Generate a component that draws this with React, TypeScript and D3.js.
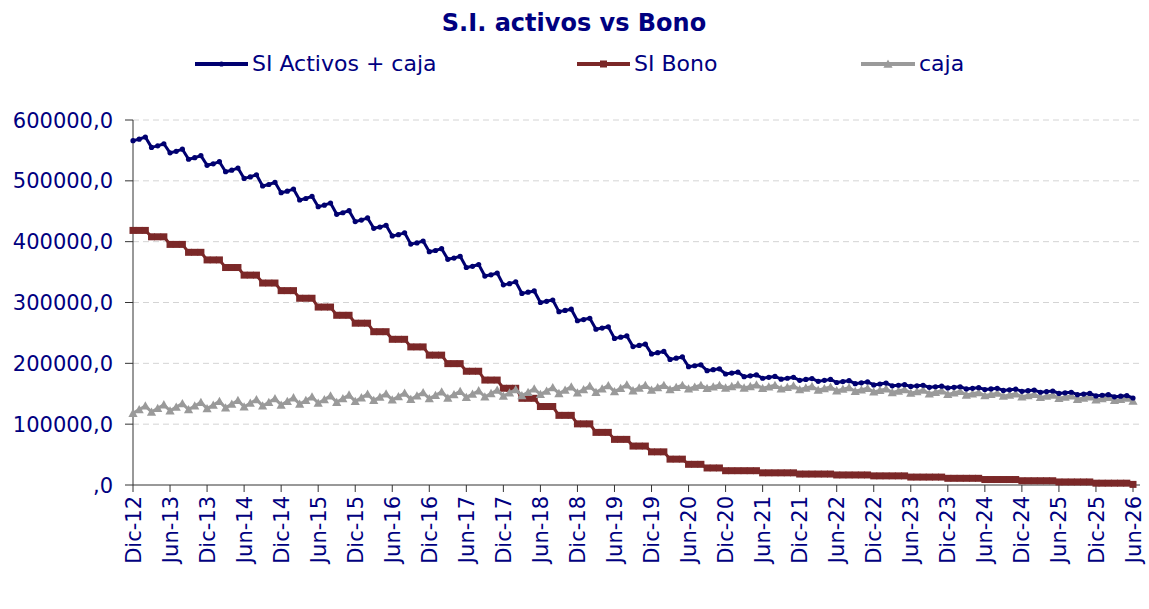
import React from "react";
import * as d3 from "d3";

// ---- data (values in thousands) ----
const MONTHS = ["Ene", "Feb", "Mar", "Abr", "May", "Jun", "Jul", "Ago", "Sep", "Oct", "Nov", "Dic"];
const START_MONTH = 11; // Dic
const START_YEAR = 12;
const N_POINTS = 163; // Dic-12 .. Jun-26

const categories: string[] = Array.from({ length: N_POINTS }, (_, i) => {
  const m = (START_MONTH + i) % 12;
  const y = START_YEAR + Math.floor((START_MONTH + i) / 12);
  return `${MONTHS[m]}-${y}`;
});

const tickLabels = [
  "Dic-12", "Jun-13", "Dic-13", "Jun-14", "Dic-14", "Jun-15", "Dic-15", "Jun-16", "Dic-16", "Jun-17",
  "Dic-17", "Jun-18", "Dic-18", "Jun-19", "Dic-19", "Jun-20", "Dic-20", "Jun-21", "Dic-21", "Jun-22",
  "Dic-22", "Jun-23", "Dic-23", "Jun-24", "Dic-24", "Jun-25", "Dic-25", "Jun-26",
];

const siActivosCaja = [
  566, 568.5, 572, 555, 557.5, 561, 546, 548.5, 552, 535.5, 538, 541.5,
  525.5, 528, 531.5, 515, 517.5, 521, 504, 506.5, 510, 491.5, 494, 497.5,
  480.5, 483, 486.5, 468.5, 471, 474.5, 457.5, 460, 463.5, 445, 447.5, 451,
  433, 435.5, 439, 422, 424, 427, 409.5, 411.5, 414.5, 396, 398, 401,
  383.5, 385.5, 388.5, 371, 373, 376, 357.5, 359.5, 362.5, 343.5, 345.5, 348.5,
  329, 331, 334, 315, 317, 319, 300, 302, 304, 285, 287, 289,
  270, 272, 274, 256, 258, 260, 241, 243, 245, 227.5, 229.5, 231.5,
  215.5, 217.5, 219.5, 206.5, 208.5, 210.5, 194.5, 196, 197.5, 188, 189.5, 191,
  182.5, 184, 185.5, 178, 179.5, 181, 175.5, 177, 178.5, 174, 175.5, 177,
  172, 173.5, 175, 170.5, 172, 173.5, 168.5, 170, 171.5, 166.5, 168, 169.5,
  164.5, 166, 167.5, 163, 164, 165, 162, 163, 164, 160.5, 161.5, 162.5,
  159.5, 160.5, 161.5, 158, 159, 160, 157, 158, 159, 155.5, 156.5, 157.5,
  154, 155, 156, 152.5, 153.5, 154.5, 150.5, 151.5, 152.5, 148.5, 149.5, 150.5,
  146.5, 147.5, 148.5, 145, 146, 147, 143,
];

const siBono = [
  418.5, 418.5, 418.5, 408, 408, 408, 395.5, 395.5, 395.5, 382.5, 382.5, 382.5,
  370, 370, 370, 357.5, 357.5, 357.5, 345, 345, 345, 332, 332, 332,
  319.5, 319.5, 319.5, 307, 307, 307, 292.5, 292.5, 292.5, 279, 279, 279,
  266, 266, 266, 252, 252, 252, 239.5, 239.5, 239.5, 227, 227, 227,
  213.5, 213.5, 213.5, 199.5, 199.5, 199.5, 187, 187, 187, 172.5, 172.5, 172.5,
  159, 159, 159, 142.5, 142.5, 142.5, 129, 129, 129, 114.5, 114.5, 114.5,
  100.5, 100.5, 100.5, 86.5, 86.5, 86.5, 75, 75, 75, 64, 64, 64,
  54.5, 54.5, 54.5, 42.5, 42.5, 42.5, 34, 34, 34, 28, 28, 28,
  23.5, 23.5, 23.5, 23.5, 23.5, 23.5, 20, 20, 20, 20, 20, 20,
  18, 18, 18, 18, 18, 18, 16.5, 16.5, 16.5, 16.5, 16.5, 16.5,
  15, 15, 15, 15, 15, 15, 13, 13, 13, 13, 13, 13,
  11, 11, 11, 11, 11, 11, 9, 9, 9, 9, 9, 9,
  7, 7, 7, 7, 7, 7, 5, 5, 5, 5, 5, 5,
  3, 3, 3, 3, 3, 3, 1,
];

const caja = [
  118, 124, 130, 120, 126, 132, 122, 128, 134, 124, 130, 136,
  125.5, 131.5, 137.5, 127, 133, 139, 128.5, 134.5, 140.5, 130, 136, 142,
  131.5, 137.5, 143.5, 133, 139, 145, 134.5, 140.5, 146.5, 136, 142, 148,
  137.5, 143.5, 149.5, 139, 144.5, 150, 140, 145.5, 151, 141, 146.5, 152,
  142, 147.5, 153, 143, 148.5, 154, 144, 149.5, 155, 145, 150.5, 156,
  146, 151.5, 157, 147, 152.5, 158, 149, 154.5, 160, 150.5, 156, 161.5,
  151.5, 157, 162.5, 152.5, 158, 163.5, 153.5, 159, 164.5, 155, 159.5, 164,
  156, 160, 164, 157, 160.5, 164, 158, 161, 164, 159, 161.5, 164,
  159.5, 162, 164.5, 159.5, 162, 164.5, 159, 161.5, 164, 158, 160.5, 163,
  157, 159.5, 162, 156, 158.5, 161, 155, 157.5, 160, 154, 156.5, 159,
  153, 155.5, 158, 152, 154.5, 157, 151, 153.5, 156, 150, 152.5, 155,
  149, 151.5, 154, 148, 150, 152, 147, 149, 151, 146, 148, 150,
  145, 147, 149, 144, 146, 148, 142.5, 144.5, 146.5, 141, 143, 145,
  140, 142, 144, 139, 141, 143, 138,
];

const yTicks = [0, 100000, 200000, 300000, 400000, 500000, 600000];

const SERIES = [
  { name: "SI Activos + caja", values: siActivosCaja, color: "#000070", marker: "circle" },
  { name: "SI Bono", values: siBono, color: "#7b2828", marker: "square" },
  { name: "caja", values: caja, color: "#9a9a9a", marker: "triangle" },
];

const FONT = "'DejaVu Sans', Verdana, sans-serif";
const TEXT_COLOR = "#000080";

function Marker({ type, x, y, color }: { type: string; x: number; y: number; color: string }) {
  if (type === "circle") return <circle cx={x} cy={y} r={2.6} fill={color} />;
  if (type === "square") return <rect x={x - 3.5} y={y - 3.5} width={7} height={7} fill={color} />;
  const s = 4.6;
  return <path d={`M${x},${y - s}L${x + s},${y + s * 0.8}L${x - s},${y + s * 0.8}Z`} fill={color} />;
}

export default function App() {
  const W = 1149;
  const H = 609;
  const x = d3.scalePoint<string>().domain(categories).range([133, 1133]);
  const y = d3.scaleLinear().domain([0, 600000]).range([485, 120]);
  const xEnd = 1140;

  const line = d3
    .line<number>()
    .x((_, i) => x(categories[i]) as number)
    .y((d) => y(d * 1000));

  const drawOrder = [1, 2, 0];
  const legendPos = [
    { x1: 195, x2: 248, tx: 252 },
    { x1: 577, x2: 630, tx: 634 },
    { x1: 861, x2: 915, tx: 919 },
  ];

  return (
    <svg
      width={W}
      height={H}
      style={{ position: "absolute", left: 0, top: 0, background: "#fff", display: "block" }}
      fontFamily={FONT}
    >
      <rect width={W} height={H} fill="#fff" />
      {/* title */}
      <text x={574} y={31} textAnchor="middle" fontSize={24} fontWeight="bold" fill={TEXT_COLOR}>
        S.I. activos vs Bono
      </text>

      {/* legend */}
      {SERIES.map((s, k) => {
        const p = legendPos[k];
        return (
          <g key={s.name}>
            <line x1={p.x1} x2={p.x2} y1={64} y2={64} stroke={s.color} strokeWidth={4} />
            <Marker type={s.marker} x={(p.x1 + p.x2) / 2} y={64} color={s.color} />
            <text x={p.tx} y={71} fontSize={22} fill={TEXT_COLOR}>
              {s.name}
            </text>
          </g>
        );
      })}

      {/* gridlines */}
      {yTicks.slice(1).map((t) => (
        <line key={t} x1={133} x2={xEnd} y1={y(t)} y2={y(t)} stroke="#d4d4d4" strokeDasharray="6,4" />
      ))}

      {/* y axis */}
      <line x1={133} x2={133} y1={y(600000)} y2={y(0)} stroke="#333" />
      {yTicks.map((t) => (
        <g key={t}>
          <line x1={125} x2={133} y1={y(t)} y2={y(t)} stroke="#333" />
          <text x={113} y={y(t)} dy="0.36em" textAnchor="end" fontSize={21} fill={TEXT_COLOR}>
            {t === 0 ? ",0" : `${t},0`}
          </text>
        </g>
      ))}

      {/* x axis */}
      <line x1={133} x2={xEnd} y1={y(0)} y2={y(0)} stroke="#333" />
      {tickLabels.map((lab) => {
        const xx = x(lab) as number;
        return (
          <g key={lab}>
            <line x1={xx} x2={xx} y1={y(0)} y2={y(0) + 7} stroke="#333" />
            <text
              transform={`translate(${xx},${y(0) + 11}) rotate(-90)`}
              dy="0.36em"
              textAnchor="end"
              fontSize={21}
              fill={TEXT_COLOR}
            >
              {lab}
            </text>
          </g>
        );
      })}

      {/* series */}
      {drawOrder.map((k) => {
        const s = SERIES[k];
        return (
          <g key={s.name}>
            <path d={line(s.values) || ""} fill="none" stroke={s.color} strokeWidth={3} strokeLinejoin="round" />
            {s.values.map((v, i) => (
              <Marker key={i} type={s.marker} x={x(categories[i]) as number} y={y(v * 1000)} color={s.color} />
            ))}
          </g>
        );
      })}
    </svg>
  );
}
